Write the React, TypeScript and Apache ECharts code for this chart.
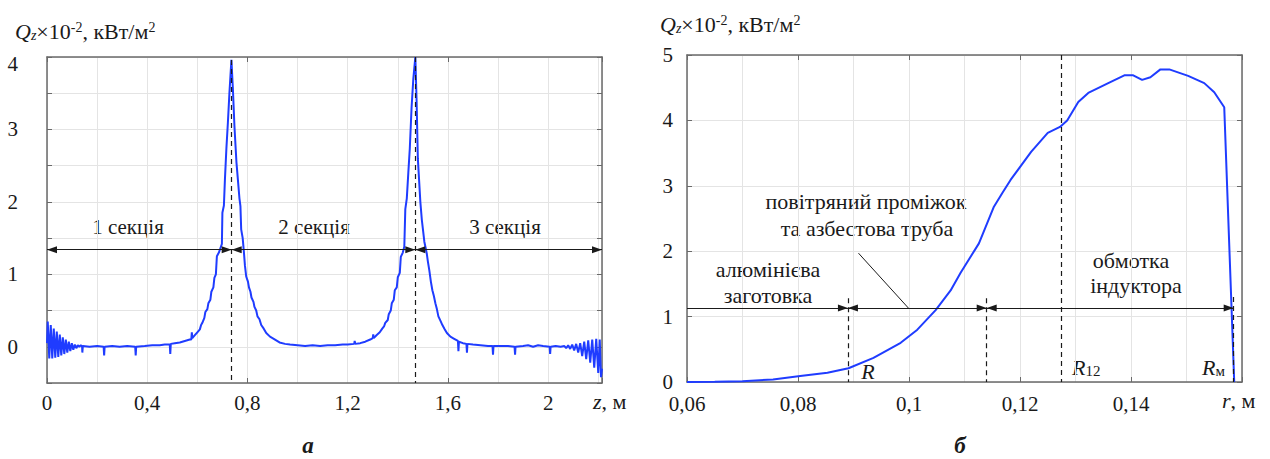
import React, { useEffect, useRef } from "react";
import * as echarts from "echarts";

const FONT = "Liberation Serif";
const BLUE = "#1f3cff";
const AXIS = "#6a6a6a";
const GRIDC = "#e4e4e4";
const INK = "#1a1a1a";

// ---------- chart "а": Q_z along z ----------
const startRipple: [number, number][] = [
  [0, 0.05], [0.003, 0.35], [0.009, -0.16], [0.015, 0.3], [0.021, -0.16], [0.027, 0.25],
  [0.033, -0.15], [0.039, 0.21], [0.045, -0.14], [0.051, 0.17], [0.057, -0.12], [0.063, 0.13],
  [0.069, -0.1], [0.075, 0.1], [0.081, -0.08], [0.087, 0.07], [0.093, -0.06], [0.099, 0.05],
  [0.105, -0.04], [0.111, 0.03], [0.117, -0.02], [0.123, 0.02], [0.129, 0.0], [0.135, 0.02],
];
const plateau1: [number, number][] = [
  [0.14, 0.01], [0.141, -0.08], [0.143, 0.01], [0.17, 0.0], [0.2, 0.01], [0.226, 0.0],
  [0.228, -0.12], [0.23, 0.0], [0.26, 0.01], [0.29, 0.0], [0.32, 0.01], [0.352, 0.0],
  [0.354, -0.12], [0.356, 0.0], [0.39, 0.01], [0.42, 0.02], [0.45, 0.02], [0.47, 0.03],
  [0.49, 0.03], [0.492, -0.1], [0.494, 0.04], [0.51, 0.05], [0.53, 0.06], [0.55, 0.08],
  [0.57, 0.1], [0.576, 0.1], [0.578, 0.2], [0.58, 0.12], [0.59, 0.16], [0.6, 0.2],
];
const peak1: [number, number][] = [
  [0.61, 0.24], [0.615, 0.3], [0.62, 0.33], [0.628, 0.4], [0.632, 0.48], [0.64, 0.52],
  [0.644, 0.6], [0.652, 0.65], [0.656, 0.76], [0.664, 0.82], [0.668, 0.95], [0.674, 1.0],
  [0.678, 1.25], [0.686, 1.3], [0.692, 1.36], [0.698, 1.42], [0.7, 1.85], [0.706, 1.95],
  [0.71, 2.3], [0.716, 2.74], [0.722, 3.1], [0.728, 3.5], [0.736, 3.96], [0.742, 3.55],
  [0.748, 3.05], [0.752, 2.8], [0.756, 2.55], [0.762, 2.3], [0.768, 2.05], [0.772, 1.94],
  [0.775, 1.62], [0.781, 1.5], [0.786, 1.3], [0.79, 1.12], [0.795, 0.97], [0.802, 0.9],
  [0.806, 0.82], [0.812, 0.76], [0.816, 0.68], [0.824, 0.62], [0.828, 0.55], [0.835, 0.5],
  [0.84, 0.42], [0.848, 0.38], [0.855, 0.3], [0.865, 0.25], [0.875, 0.19], [0.89, 0.14],
  [0.905, 0.11], [0.928, 0.06], [0.95, 0.04], [0.97, 0.03],
];
const plateau2: [number, number][] = [
  [1.0, 0.02], [1.03, 0.01], [1.06, 0.02], [1.09, 0.01], [1.12, 0.02], [1.15, 0.02],
  [1.18, 0.03], [1.2, 0.03], [1.226, 0.04], [1.228, 0.08], [1.23, 0.04], [1.25, 0.05],
  [1.27, 0.07], [1.29, 0.1], [1.3, 0.12], [1.302, 0.17], [1.304, 0.12], [1.315, 0.16],
];
const peak2: [number, number][] = [
  [1.328, 0.2], [1.338, 0.25], [1.345, 0.28], [1.35, 0.33], [1.36, 0.37], [1.364, 0.45],
  [1.372, 0.5], [1.376, 0.6], [1.384, 0.65], [1.388, 0.78], [1.396, 0.82], [1.4, 0.96],
  [1.408, 1.02], [1.412, 1.24], [1.42, 1.3], [1.426, 1.38], [1.43, 1.9], [1.436, 2.05],
  [1.442, 2.4], [1.448, 2.74], [1.455, 3.3], [1.462, 3.7], [1.47, 4.0], [1.475, 3.4],
  [1.48, 2.6], [1.485, 2.3], [1.49, 2.0], [1.496, 1.75], [1.5, 1.63], [1.506, 1.45],
  [1.512, 1.35], [1.516, 1.28], [1.52, 1.18], [1.526, 1.05], [1.532, 0.9], [1.538, 0.78],
  [1.544, 0.7], [1.55, 0.6], [1.556, 0.52], [1.562, 0.42], [1.57, 0.36], [1.578, 0.3],
  [1.586, 0.25], [1.596, 0.19], [1.61, 0.14], [1.625, 0.11], [1.64, 0.08], [1.642, -0.06],
  [1.644, 0.07], [1.66, 0.05], [1.674, 0.04], [1.676, -0.08], [1.678, 0.04],
];
const plateau3: [number, number][] = [
  [1.7, 0.03], [1.73, 0.02], [1.76, 0.01], [1.778, 0.01], [1.78, -0.11], [1.782, 0.01],
  [1.81, 0.01], [1.84, 0.01], [1.866, 0.0], [1.868, -0.11], [1.87, 0.0], [1.9, 0.01],
  [1.92, 0.02], [1.94, 0.0], [1.96, 0.02], [1.98, 0.01], [2.006, 0.0], [2.008, -0.1],
  [2.01, 0.0], [2.03, 0.01], [2.05, 0.0], [2.065, 0.01],
];
const endRipple: [number, number][] = [
  [2.072, -0.02], [2.08, 0.02], [2.088, -0.03], [2.096, 0.03], [2.104, -0.05], [2.112, 0.04],
  [2.12, -0.08], [2.128, 0.05], [2.136, -0.13], [2.144, 0.07], [2.152, -0.17], [2.16, 0.09],
  [2.168, -0.22], [2.176, 0.1], [2.184, -0.29], [2.192, 0.11], [2.2, -0.36], [2.206, 0.1],
  [2.211, -0.42], [2.215, -0.3],
];
const zRange = [0, 2.215];
const qzRange = [-0.5, 4];
const sectionBounds = [0, 0.737, 1.47, 2.215];
const sectionArrowLevel = 1.34;
const sectionNames = ["1 секція", "2 секція", "3 секція"];

// ---------- chart "б": Q_z along r ----------
const radialProfile: [number, number][] = [
  [0.06, 0], [0.065, 0.003], [0.07, 0.01], [0.0755, 0.04], [0.0804, 0.09], [0.0853, 0.14],
  [0.0891, 0.21], [0.0936, 0.37], [0.0985, 0.6], [0.1015, 0.8], [0.1048, 1.1],
  [0.1075, 1.4], [0.1093, 1.67], [0.1126, 2.12], [0.1153, 2.68], [0.1169, 2.9],
  [0.1183, 3.09], [0.122, 3.52], [0.125, 3.81], [0.1272, 3.9], [0.1285, 4.0],
  [0.1305, 4.28], [0.1323, 4.42], [0.1359, 4.57], [0.1388, 4.69], [0.1404, 4.69],
  [0.142, 4.62], [0.1435, 4.66], [0.1453, 4.78], [0.1469, 4.78], [0.1503, 4.68],
  [0.1532, 4.57], [0.155, 4.43], [0.1568, 4.2], [0.1586, 0],
];
const rRange = [0.06, 0.16];
const qrRange = [0, 5];
const rBillet = 0.089; // R
const rTube = 0.114;
const r12 = 0.1274;
const rCoil = 0.1585; // Rм
const zoneArrowLevel = 1.13;
const leaderFrom: [number, number] = [0.0909, 1.97];
const leaderTo: [number, number] = [0.0999, 1.13];

const fmt = (v: number) => String(Math.round(v * 1000) / 1000).replace(".", ",");
const isMult = (v: number, s: number) => Math.abs(v / s - Math.round(v / s)) < 1e-6;

const TICK_FS = 21;
const NOTE_FS = 22;
const labelStyle = { fontFamily: FONT, fontSize: TICK_FS, color: INK };
const tickInside = { show: true, inside: true, length: 5, lineStyle: { color: AXIS, width: 1 } };
const axisLine = { show: true, onZero: false, lineStyle: { color: AXIS, width: 1.5 } };
const noLine = { show: false, onZero: false };
const split = { show: true, lineStyle: { color: GRIDC, width: 1 } };

function txt(x: number, y: number, text: string, extra: any = {}) {
  return {
    type: "text",
    x,
    y,
    silent: true,
    style: {
      text,
      fontFamily: FONT,
      fontSize: NOTE_FS,
      fill: INK,
      align: "center",
      verticalAlign: "middle",
      ...extra,
    },
  };
}

const qRich = {
  q: { fontFamily: FONT, fontSize: 22, fontStyle: "italic", color: INK },
  sub: { fontFamily: FONT, fontSize: 14, fontStyle: "italic", verticalAlign: "bottom", lineHeight: 13, color: INK },
  n: { fontFamily: FONT, fontSize: 22, color: INK },
  sup: { fontFamily: FONT, fontSize: 14, verticalAlign: "top", lineHeight: 13, color: INK },
};
const qTitle = "{q|Q}{sub|z}{n|×10}{sup|-2}{n|, кВт/м}{sup|2}";
const italicRich = {
  i: { fontFamily: FONT, fontSize: 22, fontStyle: "italic", color: INK },
  n: { fontFamily: FONT, fontSize: 22, color: INK },
  s: { fontFamily: FONT, fontSize: 15, verticalAlign: "bottom", lineHeight: 13, color: INK },
};

export default function App() {
  const ref = useRef<HTMLDivElement>(null);
  useEffect(() => {
    if (!ref.current) return;
    const chart = echarts.init(ref.current, null, { renderer: "svg" });
    const leftCurve = [...startRipple, ...plateau1, ...peak1, ...plateau2, ...peak2, ...plateau3, ...endRipple];

    const dashStyle = { color: INK, width: 1.2, type: [5, 4] as any };
    const sectionArrows = sectionNames.map((_, i) => [
      { coord: [sectionBounds[i], sectionArrowLevel] },
      { coord: [sectionBounds[i + 1], sectionArrowLevel] },
    ]);
    const richText = (x: number, y: number, text: string, rich: any) => ({
      type: "text", x, y, silent: true,
      style: { text, rich, fontFamily: FONT, fontSize: 22, fill: INK, align: "left", verticalAlign: "middle" },
    });

    const option: any = {
      animation: false,
      backgroundColor: "#ffffff",
      textStyle: { fontFamily: FONT },
      grid: [
        { left: 47, top: 57, width: 555, height: 326 },
        { left: 687, top: 55, width: 555, height: 327 },
      ],
      xAxis: [
        {
          gridIndex: 0, type: "value", position: "bottom", min: zRange[0], max: zRange[1], interval: 0.2,
          axisLine, axisTick: { show: false }, splitLine: split,
          axisLabel: { ...labelStyle, margin: 9, formatter: (v: number) => (isMult(v, 0.4) && v < 2.1 ? fmt(v) : "") },
        },
        {
          gridIndex: 0, type: "value", position: "top", min: zRange[0], max: zRange[1], interval: 0.8,
          axisLine, axisTick: tickInside, splitLine: { show: false }, axisLabel: { show: false },
        },
        {
          gridIndex: 0, type: "value", position: "bottom", min: zRange[0], max: zRange[1], interval: 0.8,
          axisLine: noLine, axisTick: tickInside, splitLine: { show: false }, axisLabel: { show: false },
        },
        {
          gridIndex: 1, type: "value", position: "bottom", min: rRange[0], max: rRange[1], interval: 0.01,
          axisLine, axisTick: { show: false }, splitLine: split,
          axisLabel: { ...labelStyle, margin: 11, formatter: (v: number) => (isMult(v, 0.02) && v < 0.155 ? fmt(v) : "") },
        },
        {
          gridIndex: 1, type: "value", position: "top", min: rRange[0], max: rRange[1], interval: 0.02,
          axisLine, axisTick: tickInside, splitLine: { show: false }, axisLabel: { show: false },
        },
        {
          gridIndex: 1, type: "value", position: "bottom", min: rRange[0], max: rRange[1], interval: 0.02,
          axisLine: noLine, axisTick: tickInside, splitLine: { show: false }, axisLabel: { show: false },
        },
      ],
      yAxis: [
        {
          gridIndex: 0, type: "value", position: "left", min: qzRange[0], max: qzRange[1], interval: 0.5,
          axisLine, axisTick: tickInside, splitLine: split,
          axisLabel: {
            ...labelStyle, margin: 29,
            formatter: (v: number) => {
              const r = Math.round(v * 10) / 10;
              if (r < 0 || !isMult(r, 1)) return "";
              return r === 4 ? "{top|4}" : String(r);
            },
            rich: { top: { fontFamily: FONT, fontSize: TICK_FS, color: INK, padding: [14, 0, 0, 0] } },
          },
        },
        {
          gridIndex: 0, type: "value", position: "right", min: qzRange[0], max: qzRange[1], interval: 0.5,
          axisLine, axisTick: tickInside, splitLine: { show: false }, axisLabel: { show: false },
        },
        {
          gridIndex: 1, type: "value", position: "left", min: qrRange[0], max: qrRange[1], interval: 1,
          axisLine, axisTick: tickInside, splitLine: split,
          axisLabel: { ...labelStyle, margin: 14 },
        },
        {
          gridIndex: 1, type: "value", position: "right", min: qrRange[0], max: qrRange[1], interval: 1,
          axisLine, axisTick: tickInside, splitLine: { show: false }, axisLabel: { show: false },
        },
      ],
      series: [
        {
          type: "line", xAxisIndex: 0, yAxisIndex: 0, data: leftCurve, showSymbol: false, symbol: "none",
          lineStyle: { color: BLUE, width: 2 }, z: 3, silent: true,
        },
        {
          type: "line", xAxisIndex: 0, yAxisIndex: 0, data: [], silent: true, z: 4,
          markLine: {
            silent: true, symbol: "none", label: { show: false }, lineStyle: dashStyle,
            data: [
              [{ coord: [sectionBounds[1], 3.96] }, { coord: [sectionBounds[1], qzRange[0]] }],
              [{ coord: [sectionBounds[2], 4] }, { coord: [sectionBounds[2], qzRange[0]] }],
            ],
          },
        },
        {
          type: "line", xAxisIndex: 0, yAxisIndex: 0, data: [], silent: true, z: 5,
          markLine: {
            silent: true, symbol: ["triangle", "triangle"], symbolSize: [7, 10],
            symbolOffset: [[0, 5], [0, 5]],
            label: { show: false }, lineStyle: { color: INK, width: 1.2, type: "solid" },
            itemStyle: { color: INK },
            data: sectionArrows,
          },
        },
        {
          type: "line", xAxisIndex: 3, yAxisIndex: 2, data: radialProfile, showSymbol: false, symbol: "none",
          lineStyle: { color: BLUE, width: 2 }, z: 3, silent: true,
        },
        {
          type: "line", xAxisIndex: 3, yAxisIndex: 2, data: [], silent: true, z: 4,
          markLine: {
            silent: true, symbol: "none", label: { show: false }, lineStyle: dashStyle,
            data: [
              [{ coord: [rBillet, 1.28] }, { coord: [rBillet, 0] }],
              [{ coord: [rTube, 1.28] }, { coord: [rTube, 0] }],
              [{ coord: [r12, qrRange[1]] }, { coord: [r12, 0] }],
              [{ coord: [rCoil, 1.3] }, { coord: [rCoil, 0] }],
            ],
          },
        },
        {
          type: "line", xAxisIndex: 3, yAxisIndex: 2, data: [], silent: true, z: 5,
          markLine: {
            silent: true, symbol: "none", label: { show: false },
            lineStyle: { color: INK, width: 1, type: "solid" },
            data: [[{ coord: leaderFrom }, { coord: leaderTo }]],
          },
        },
        {
          type: "line", xAxisIndex: 3, yAxisIndex: 2, data: [], silent: true, z: 5,
          markLine: {
            silent: true, symbol: ["triangle", "triangle"], symbolSize: [7, 10],
            symbolOffset: [[0, 5], [0, 5]],
            label: { show: false }, lineStyle: { color: INK, width: 1.2, type: "solid" },
            itemStyle: { color: INK },
            data: [
              [{ coord: [rRange[0], zoneArrowLevel], symbol: "none" }, { coord: [rBillet, zoneArrowLevel] }],
              [{ coord: [rBillet, zoneArrowLevel] }, { coord: [rTube, zoneArrowLevel] }],
              [{ coord: [rTube, zoneArrowLevel] }, { coord: [rCoil, zoneArrowLevel] }],
            ],
          },
        },
      ],
      graphic: [
        richText(15, 31, qTitle, qRich),
        richText(660, 24, qTitle, qRich),
        txt(128, 227, sectionNames[0], { fontSize: 21 }),
        txt(314, 227, sectionNames[1], { fontSize: 21 }),
        txt(505, 227, sectionNames[2], { fontSize: 21 }),
        richText(593, 401, "{i|z}{n|, м}", italicRich),
        txt(308, 445, "а", { fontWeight: "bold", fontStyle: "italic", fontSize: 23 }),
        txt(866, 201, "повітряний проміжок"),
        txt(867, 228, "та азбестова труба"),
        txt(768, 269, "алюмінієва"),
        txt(768, 295, "заготовка"),
        txt(1131, 260, "обмотка"),
        txt(1136, 285, "індуктора"),
        txt(868, 371, "R", { fontStyle: "italic" }),
        richText(1072, 367, "{i|R}{s|12}", italicRich),
        richText(1202, 367, "{i|R}{s|м}", italicRich),
        richText(1222, 400, "{i|r}{n|, м}", italicRich),
        txt(960, 445, "б", { fontWeight: "bold", fontStyle: "italic", fontSize: 23 }),
      ],
    };
    chart.setOption(option);
    return () => chart.dispose();
  }, []);

  return (
    <div
      ref={ref}
      style={{ position: "fixed", left: 0, top: 0, width: 1270, height: 459, background: "#fff" }}
    />
  );
}
